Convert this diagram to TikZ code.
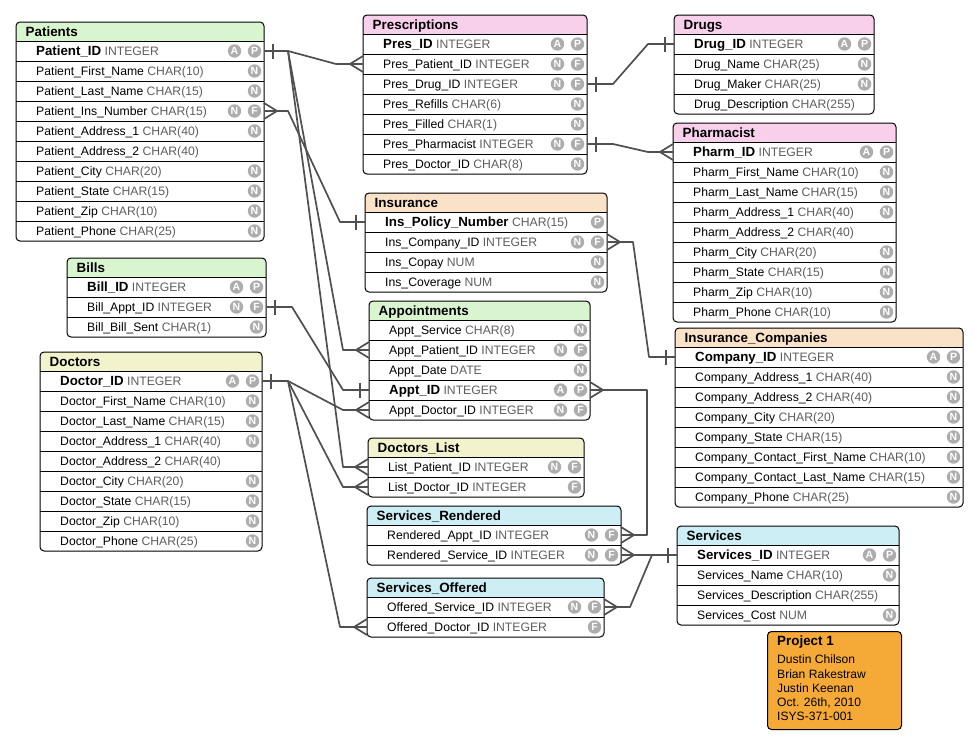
\documentclass[tikz,border=0pt]{standalone}
\usepackage{fontspec}
\setmainfont{Liberation Sans}
\usetikzlibrary{calc}
\definecolor{hgreen}{HTML}{D9F5D0}
\definecolor{hpink}{HTML}{F9D0EC}
\definecolor{hpeach}{HTML}{F9E2C8}
\definecolor{hyellow}{HTML}{F2F2CC}
\definecolor{hcyan}{HTML}{CDEEF5}
\definecolor{projorange}{HTML}{F5AA37}
\definecolor{linecol}{HTML}{505050}
\definecolor{badgegray}{HTML}{ADADAD}
\definecolor{typegray}{HTML}{5E5E5E}
\newcommand\rowfont{\fontsize{12.2}{14}\selectfont}
\newcommand\pkfont{\bfseries\fontsize{13.3}{15}\selectfont}
\newcommand\ttlfont{\bfseries\fontsize{13.4}{15}\selectfont}
\tikzset{
  conn/.style={draw=linecol, line width=1.7pt, line join=round},
  sepline/.style={draw=black, line width=0.9pt},
  tbox/.style={draw=black, line width=1pt, rounded corners=4pt, inner sep=0pt, outer sep=0pt, anchor=north west},
  rowcell/.style={inner sep=0pt, outer sep=0pt, anchor=north west, minimum height=20pt},
  rowtext/.style={inner sep=0pt, anchor=base west, font=\rowfont},
  badge/.style={circle, fill=badgegray, text=white, inner sep=0pt, minimum size=13.4pt, font=\bfseries\fontsize{10.5}{10.5}\selectfont},
  ttl/.style={inner sep=0pt, anchor=base west, font=\ttlfont},
}
\newcommand\ertable[7]{%
  \def\curN{#1}\def\curL{#2}\def\curT{#3}\def\curR{#4}%
  \pgfmathsetmacro\curW{#4-#2}%
  \pgfmathsetmacro\curH{19+20*#5}%
  \pgfmathsetmacro\curBot{#3+\curH}%
  \begin{scope}
    \clip[rounded corners=4pt] (#2,#3) rectangle (#4,\curBot);
    \fill[#6] (#2,#3) rectangle (#4,#3+19);
  \end{scope}
  \foreach \k in {1,...,#5}{\pgfmathsetmacro\yy{#3+19+20*(\k-1)}\draw[sepline] (#2,\yy) -- (#4,\yy);}
  \node[tbox, minimum width=\curW pt, minimum height=\curH pt] (#1) at (#2,#3) {};
  \node[ttl] (#1-title) at (#2+9.5,#3+14.3) {#7};
}
\newcommand\erowx[6]{%
  \pgfmathsetmacro\ertop{\curT+19+20*(#2-1)}%
  \pgfmathsetmacro\ercen{\ertop+10}%
  \node[rowcell, minimum width=\curW pt] (\curN-#2) at (\curL,\ertop) {};
  \node[rowtext] (\curN-#2-t) at (\curL+20,\ercen+4.3) {{#1#3} {\color{typegray}#4}};
  \if\relax\detokenize{#6}\relax\else\node[badge] (\curN-#2-b2) at (\curR-9.5,\ercen) {#6};\fi
  \if\relax\detokenize{#5}\relax\else\node[badge] (\curN-#2-b1) at (\curR-29.5,\ercen) {#5};\fi
}
\newcommand\erow{\erowx{}}
\newcommand\epk{\erowx{\pkfont}}
\newcommand\crowW[1]{\draw[conn] ([yshift=8pt]#1) -- ([xshift=-13pt]#1) -- ([yshift=-8pt]#1);}
\newcommand\crowE[1]{\draw[conn] ([yshift=8pt]#1) -- ([xshift=13pt]#1) -- ([yshift=-8pt]#1);}
\newcommand\barW[1]{\draw[conn] ([xshift=-9pt,yshift=7.5pt]#1) -- ([xshift=-9pt,yshift=-7.5pt]#1);}
\newcommand\barE[1]{\draw[conn] ([xshift=9pt,yshift=7.5pt]#1) -- ([xshift=9pt,yshift=-7.5pt]#1);}
\begin{document}
\begin{tikzpicture}[x=1pt,y=-1pt]
\fill[white] (0,0) rectangle (979,744);
\useasboundingbox (0,0) rectangle (979,744);

% Patients
\ertable{Patients}{16}{22}{264}{10}{hgreen}{Patients}
\epk{1}{Patient\_ID}{INTEGER}{A}{P}
\erow{2}{Patient\_First\_Name}{CHAR(10)}{}{N}
\erow{3}{Patient\_Last\_Name}{CHAR(15)}{}{N}
\erow{4}{Patient\_Ins\_Number}{CHAR(15)}{N}{F}
\erow{5}{Patient\_Address\_1}{CHAR(40)}{}{N}
\erow{6}{Patient\_Address\_2}{CHAR(40)}{}{}
\erow{7}{Patient\_City}{CHAR(20)}{}{N}
\erow{8}{Patient\_State}{CHAR(15)}{}{N}
\erow{9}{Patient\_Zip}{CHAR(10)}{}{N}
\erow{10}{Patient\_Phone}{CHAR(25)}{}{N}

% Prescriptions
\ertable{Pres}{363}{15}{587}{7}{hpink}{Prescriptions}
\epk{1}{Pres\_ID}{INTEGER}{A}{P}
\erow{2}{Pres\_Patient\_ID}{INTEGER}{N}{F}
\erow{3}{Pres\_Drug\_ID}{INTEGER}{N}{F}
\erow{4}{Pres\_Refills}{CHAR(6)}{}{N}
\erow{5}{Pres\_Filled}{CHAR(1)}{}{N}
\erow{6}{Pres\_Pharmacist}{INTEGER}{N}{F}
\erow{7}{Pres\_Doctor\_ID}{CHAR(8)}{}{N}

% Drugs
\ertable{Drugs}{674}{15}{874}{4}{hpink}{Drugs}
\epk{1}{Drug\_ID}{INTEGER}{A}{P}
\erow{2}{Drug\_Name}{CHAR(25)}{}{N}
\erow{3}{Drug\_Maker}{CHAR(25)}{}{N}
\erow{4}{Drug\_Description}{CHAR(255)}{}{}

% Pharmacist
\ertable{Pharm}{673}{123}{896}{9}{hpink}{Pharmacist}
\epk{1}{Pharm\_ID}{INTEGER}{A}{P}
\erow{2}{Pharm\_First\_Name}{CHAR(10)}{}{N}
\erow{3}{Pharm\_Last\_Name}{CHAR(15)}{}{N}
\erow{4}{Pharm\_Address\_1}{CHAR(40)}{}{N}
\erow{5}{Pharm\_Address\_2}{CHAR(40)}{}{}
\erow{6}{Pharm\_City}{CHAR(20)}{}{N}
\erow{7}{Pharm\_State}{CHAR(15)}{}{N}
\erow{8}{Pharm\_Zip}{CHAR(10)}{}{N}
\erow{9}{Pharm\_Phone}{CHAR(10)}{}{N}

% Insurance
\ertable{Ins}{365}{193}{607}{4}{hpeach}{Insurance}
\epk{1}{Ins\_Policy\_Number}{CHAR(15)}{}{P}
\erow{2}{Ins\_Company\_ID}{INTEGER}{N}{F}
\erow{3}{Ins\_Copay}{NUM}{}{N}
\erow{4}{Ins\_Coverage}{NUM}{}{N}

% Appointments
\ertable{Appt}{369}{301}{590}{5}{hgreen}{Appointments}
\erow{1}{Appt\_Service}{CHAR(8)}{}{N}
\erow{2}{Appt\_Patient\_ID}{INTEGER}{N}{F}
\erow{3}{Appt\_Date}{DATE}{}{N}
\epk{4}{Appt\_ID}{INTEGER}{A}{P}
\erow{5}{Appt\_Doctor\_ID}{INTEGER}{N}{F}

% Bills
\ertable{Bills}{67}{258}{266}{3}{hgreen}{Bills}
\epk{1}{Bill\_ID}{INTEGER}{A}{P}
\erow{2}{Bill\_Appt\_ID}{INTEGER}{N}{F}
\erow{3}{Bill\_Bill\_Sent}{CHAR(1)}{}{N}

% Doctors
\ertable{Doctors}{40}{352}{262}{9}{hyellow}{Doctors}
\epk{1}{Doctor\_ID}{INTEGER}{A}{P}
\erow{2}{Doctor\_First\_Name}{CHAR(10)}{}{N}
\erow{3}{Doctor\_Last\_Name}{CHAR(15)}{}{N}
\erow{4}{Doctor\_Address\_1}{CHAR(40)}{}{N}
\erow{5}{Doctor\_Address\_2}{CHAR(40)}{}{}
\erow{6}{Doctor\_City}{CHAR(20)}{}{N}
\erow{7}{Doctor\_State}{CHAR(15)}{}{N}
\erow{8}{Doctor\_Zip}{CHAR(10)}{}{N}
\erow{9}{Doctor\_Phone}{CHAR(25)}{}{N}

% Doctors_List
\ertable{DL}{368}{438}{584}{2}{hyellow}{Doctors\_List}
\erow{1}{List\_Patient\_ID}{INTEGER}{N}{F}
\erow{2}{List\_Doctor\_ID}{INTEGER}{}{F}

% Services_Rendered
\ertable{SR}{367}{506}{621}{2}{hcyan}{Services\_Rendered}
\erow{1}{Rendered\_Appt\_ID}{INTEGER}{N}{F}
\erow{2}{Rendered\_Service\_ID}{INTEGER}{N}{F}

% Services_Offered
\ertable{SO}{367}{578}{604}{2}{hcyan}{Services\_Offered}
\erow{1}{Offered\_Service\_ID}{INTEGER}{N}{F}
\erow{2}{Offered\_Doctor\_ID}{INTEGER}{}{F}

% Insurance_Companies
\ertable{IC}{675}{328}{963}{8}{hpeach}{Insurance\_Companies}
\epk{1}{Company\_ID}{INTEGER}{A}{P}
\erow{2}{Company\_Address\_1}{CHAR(40)}{}{N}
\erow{3}{Company\_Address\_2}{CHAR(40)}{}{N}
\erow{4}{Company\_City}{CHAR(20)}{}{N}
\erow{5}{Company\_State}{CHAR(15)}{}{N}
\erow{6}{Company\_Contact\_First\_Name}{CHAR(10)}{}{N}
\erow{7}{Company\_Contact\_Last\_Name}{CHAR(15)}{}{N}
\erow{8}{Company\_Phone}{CHAR(25)}{}{N}

% Services
\ertable{Svc}{677}{526}{899}{4}{hcyan}{Services}
\epk{1}{Services\_ID}{INTEGER}{A}{P}
\erow{2}{Services\_Name}{CHAR(10)}{}{N}
\erow{3}{Services\_Description}{CHAR(255)}{}{}
\erow{4}{Services\_Cost}{NUM}{}{N}

% Project box
\node[draw=black, line width=1pt, rounded corners=4pt, fill=projorange, anchor=north west, minimum width=134pt, minimum height=98pt, inner sep=0pt] (project) at (767,631) {};
\node[ttl] (project-title) at (777,645) {Project 1};
\node[rowtext, font=\fontsize{12.1}{14}\selectfont] (project-l1) at (777,663.5) {Dustin Chilson};
\node[rowtext, font=\fontsize{12.1}{14}\selectfont] (project-l2) at (777,678) {Brian Rakestraw};
\node[rowtext, font=\fontsize{12.1}{14}\selectfont] (project-l3) at (777,692.3) {Justin Keenan};
\node[rowtext, font=\fontsize{12.1}{14}\selectfont] (project-l4) at (777,706.6) {Oct. 26th, 2010};
\node[rowtext, font=\fontsize{12.1}{14}\selectfont] (project-l5) at (777,720.9) {ISYS-371-001};

% ---- connectors ----
% Patient_ID fan
\draw[conn] (Patients-1.east) -- (288,0 |- Patients-1.east) coordinate (pfan) -- (336,0 |- Pres-2.west) -- (Pres-2.west);
\draw[conn] (pfan) -- (343,0 |- Appt-2.west) -- (Appt-2.west);
\draw[conn] (pfan) -- (343,0 |- DL-1.west) -- (DL-1.west);
\barE{Patients-1.east} \crowW{Pres-2.west} \crowW{Appt-2.west} \crowW{DL-1.west}
% Patient_Ins_Number -> Ins_Policy_Number
\draw[conn] (Patients-4.east) -- (288,0 |- Patients-4.east) -- (340,0 |- Ins-1.west) -- (Ins-1.west);
\crowE{Patients-4.east} \barW{Ins-1.west}
% Bill_Appt_ID -> Appt_ID
\draw[conn] (Bills-2.east) -- (292,0 |- Bills-2.east) -- (343,0 |- Appt-4.west) -- (Appt-4.west);
\barE{Bills-2.east} \barW{Appt-4.west}
% Doctor_ID fan
\draw[conn] (Doctors-1.east) -- (288,0 |- Doctors-1.east) coordinate (dfan) -- (343,0 |- Appt-5.west) -- (Appt-5.west);
\draw[conn] (dfan) -- (343,0 |- DL-2.west) -- (DL-2.west);
\draw[conn] (dfan) -- (340,0 |- SO-2.west) -- (SO-2.west);
\barE{Doctors-1.east} \crowW{Appt-5.west} \crowW{DL-2.west} \crowW{SO-2.west}
% Pres_Drug_ID -> Drug_ID
\draw[conn] (Pres-3.east) -- (613,0 |- Pres-3.east) -- (648,0 |- Drugs-1.west) -- (Drugs-1.west);
\barE{Pres-3.east} \barW{Drugs-1.west}
% Pres_Pharmacist -> Pharm_ID
\draw[conn] (Pres-6.east) -- (613,0 |- Pres-6.east) -- (648,0 |- Pharm-1.west) -- (Pharm-1.west);
\barE{Pres-6.east} \crowW{Pharm-1.west}
% Ins_Company_ID -> Company_ID
\draw[conn] (Ins-2.east) -- (633,0 |- Ins-2.east) -- (649,0 |- IC-1.west) -- (IC-1.west);
\crowE{Ins-2.east} \barW{IC-1.west}
% Appt_ID -> Rendered_Appt_ID
\draw[conn] (Appt-4.east) -- (647,0 |- Appt-4.east) -- (647,0 |- SR-1.east) -- (SR-1.east);
\crowE{Appt-4.east} \crowE{SR-1.east}
% Rendered_Service_ID -> Services_ID
\draw[conn] (SR-2.east) -- (Svc-1.west);
\crowE{SR-2.east} \barW{Svc-1.west}
% Offered_Service_ID -> Services_ID
\draw[conn] (SO-1.east) -- (630,0 |- SO-1.east) -- (652,0 |- SR-2.east);
\crowE{SO-1.east}
\end{tikzpicture}
\end{document}
